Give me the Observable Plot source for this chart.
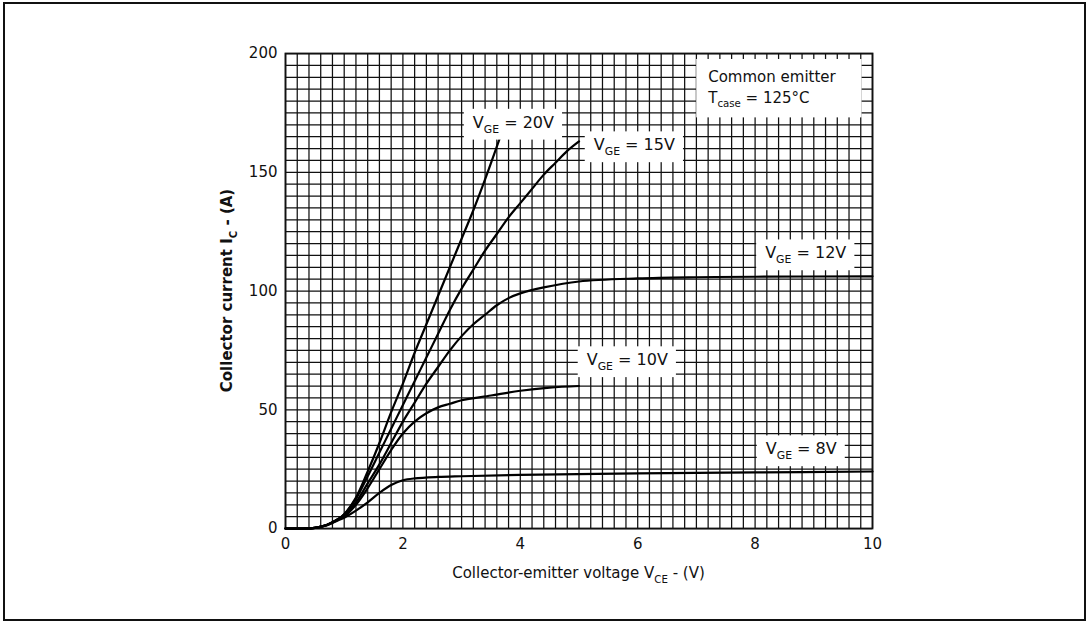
<!DOCTYPE html>
<html><head><meta charset="utf-8">
<script src="https://cdn.jsdelivr.net/npm/d3@7"></script>
<script src="https://cdn.jsdelivr.net/npm/@observablehq/plot@0.6"></script>
<style>
html,body{margin:0;padding:0;background:#fff;}
#wrap{position:relative;width:1089px;height:623px;overflow:hidden;}
#frame{position:absolute;left:3px;top:2px;width:1083px;height:619px;border:2px solid #111;box-sizing:border-box;pointer-events:none;}
#chart{position:absolute;left:0;top:0;}
</style></head><body>
<div id="wrap"><div id="chart"></div><div id="frame"></div></div>
<script>
// ---- data (VCE in V, IC in A) ----
const vce20 = [0, 0.3, 0.5, 0.7, 0.9, 1.0, 1.2, 1.4, 1.6, 1.8, 2.0, 2.2, 2.4, 2.6, 2.8, 3.0, 3.2, 3.4, 3.66];
const ic20  = [0, 0, 0.3, 1.5, 4, 6, 13, 24, 36, 49, 61, 74, 86, 98, 110, 122, 134, 147, 165];

const vce15 = [0, 0.3, 0.5, 0.7, 0.9, 1.0, 1.2, 1.4, 1.6, 1.8, 2.0, 2.2, 2.4, 2.6, 2.8, 3.0, 3.2, 3.4, 3.6, 3.8, 4.0, 4.2, 4.4, 4.6, 4.8, 5.0];
const ic15  = [0, 0, 0.3, 1.5, 4, 6, 12.5, 22, 32, 42, 52, 62, 72, 82, 92, 101, 109, 117, 124, 131, 137, 143, 149, 154, 159, 163];

const vce12 = [0, 0.3, 0.5, 0.7, 0.9, 1.0, 1.2, 1.4, 1.6, 1.8, 2.0, 2.2, 2.4, 2.6, 2.8, 3.0, 3.2, 3.4, 3.6, 3.8, 4.0, 4.4, 5.0, 6.0, 7.0, 8.0, 10.0];
const ic12  = [0, 0, 0.3, 1.5, 4, 5.5, 11, 19, 27, 36, 45, 53, 61, 68, 75, 81, 86, 90, 94, 97, 99, 101.5, 104, 105.3, 105.8, 106, 106.2];

const vce10 = [0, 0.3, 0.5, 0.7, 0.9, 1.0, 1.2, 1.4, 1.6, 1.8, 2.0, 2.2, 2.4, 2.6, 2.8, 3.0, 3.5, 4.0, 4.5, 5.0];
const ic10  = [0, 0, 0.3, 1.4, 3.8, 5, 10, 17, 25, 33, 40, 45, 48.5, 51, 52.5, 54, 56, 58, 59.3, 60];

const vce8 = [0, 0.3, 0.5, 0.7, 0.9, 1.0, 1.2, 1.4, 1.6, 1.8, 2.0, 2.2, 2.6, 3.0, 4.0, 6.0, 8.0, 10.0];
const ic8  = [0, 0, 0.3, 1.3, 3.5, 4.5, 7.5, 11, 15, 18.3, 20.3, 21.1, 21.7, 22, 22.6, 23.2, 23.6, 24];

const xTicks = [0, 2, 4, 6, 8, 10];
const yTicks = [0, 50, 100, 150, 200];
const xGridStep = 0.2;
const yGridStep = 5;

// curve labels: [gate voltage text, VCE at label start, IC at baseline]
const labelText = ["20V", "15V", "12V", "10V", "8V"];
const labelX = [3.2, 5.26, 8.18, 5.14, 8.19];
const labelY = [168.5, 159, 113.5, 68.5, 31];

const noteLine1 = "Common emitter";
const noteLine2 = ["T", "case", " = 125°C"];
const noteX = 7.21, noteY1 = 187.8, noteY2 = 179;

const xTitle = ["Collector-emitter voltage V", "CE", " - (V)"];
const yTitle = ["Collector current I", "C", " - (A)"];

// ---- build table ----
const series = [
  {name: "20V", v: vce20, i: ic20},
  {name: "15V", v: vce15, i: ic15},
  {name: "12V", v: vce12, i: ic12},
  {name: "10V", v: vce10, i: ic10},
  {name: "8V",  v: vce8,  i: ic8}
];
const rows = series.flatMap(s => s.v.map((v, k) => ({vge: s.name, vce: v, ic: s.i[k]})));
const gx = d3.range(0, 10 + 1e-9, xGridStep);
const gy = d3.range(0, 200 + 1e-9, yGridStep);

const FONT = "DejaVu Sans, Liberation Sans, sans-serif";

const plot = Plot.plot({
  width: 1089,
  height: 623,
  marginLeft: 285,
  marginRight: 217,
  marginTop: 53,
  marginBottom: 95,
  style: {fontFamily: FONT, fontSize: "15px", color: "#111", background: "#fff"},
  x: {domain: [0, 10], ticks: xTicks, tickSize: 0, tickPadding: 10, label: null},
  y: {domain: [0, 200], ticks: yTicks, tickSize: 0, tickPadding: 8, label: null},
  marks: [
    Plot.ruleX(gx, {stroke: "#111", strokeWidth: 1.25}),
    Plot.ruleY(gy, {stroke: "#111", strokeWidth: 1.25}),
    Plot.frame({stroke: "#111", strokeWidth: 1.8}),
    Plot.line(rows, {x: "vce", y: "ic", z: "vge", stroke: "#000", strokeWidth: 2.2, curve: "catmull-rom"})
  ]
});
document.getElementById("chart").appendChild(plot);

const svg = d3.select(plot);
const sx = plot.scale("x"), sy = plot.scale("y");

function richText(g, parts, size, anchor) {
  const t = g.append("text").attr("font-family", FONT).attr("font-size", size)
    .attr("fill", "#111").attr("text-anchor", anchor || "start");
  parts.forEach((p, k) => {
    const ts = t.append("tspan").text(p);
    if (k === 1) ts.attr("font-size", size * 0.68).attr("dy", size * 0.3);
    else if (k === 2) ts.attr("dy", -size * 0.3);
  });
  return t;
}

// curve labels in white boxes
labelText.forEach((txt, k) => {
  const g = svg.append("g").attr("transform", `translate(${sx.apply(labelX[k])},${sy.apply(labelY[k])})`);
  const t = richText(g, ["V", "GE", " = " + txt], 16);
  const b = t.node().getBBox();
  g.insert("rect", "text")
    .attr("x", b.x - 9).attr("y", b.y - 4)
    .attr("width", b.width + 17).attr("height", b.height + 8)
    .attr("fill", "#fff");
});

// conditions note
{
  const g = svg.append("g");
  g.append("text").attr("font-family", FONT).attr("font-size", 15).attr("fill", "#111")
    .attr("text-anchor", "start")
    .attr("x", sx.apply(noteX)).attr("y", sy.apply(noteY1)).text(noteLine1);
  const g2 = g.append("g").attr("transform", `translate(${sx.apply(noteX)},${sy.apply(noteY2)})`);
  richText(g2, noteLine2, 15);
  const b = g.node().getBBox();
  g.insert("rect", ":first-child")
    .attr("x", b.x - 11).attr("y", b.y - 9)
    .attr("width", b.width + 36).attr("height", b.height + 17)
    .attr("fill", "#fff");
}

// axis titles
{
  const xm = (sx.range[0] + sx.range[1]) / 2;
  const g = svg.append("g").attr("transform", `translate(${xm},${sy.apply(0) + 50})`);
  richText(g, xTitle, 15, "middle");
  const ym = (sy.range[0] + sy.range[1]) / 2;
  const g2 = svg.append("g").attr("transform", `translate(${sx.apply(0) - 53},${ym}) rotate(-90)`);
  richText(g2, yTitle, 15, "middle").attr("font-weight", "bold");
}
</script>
</body></html>
